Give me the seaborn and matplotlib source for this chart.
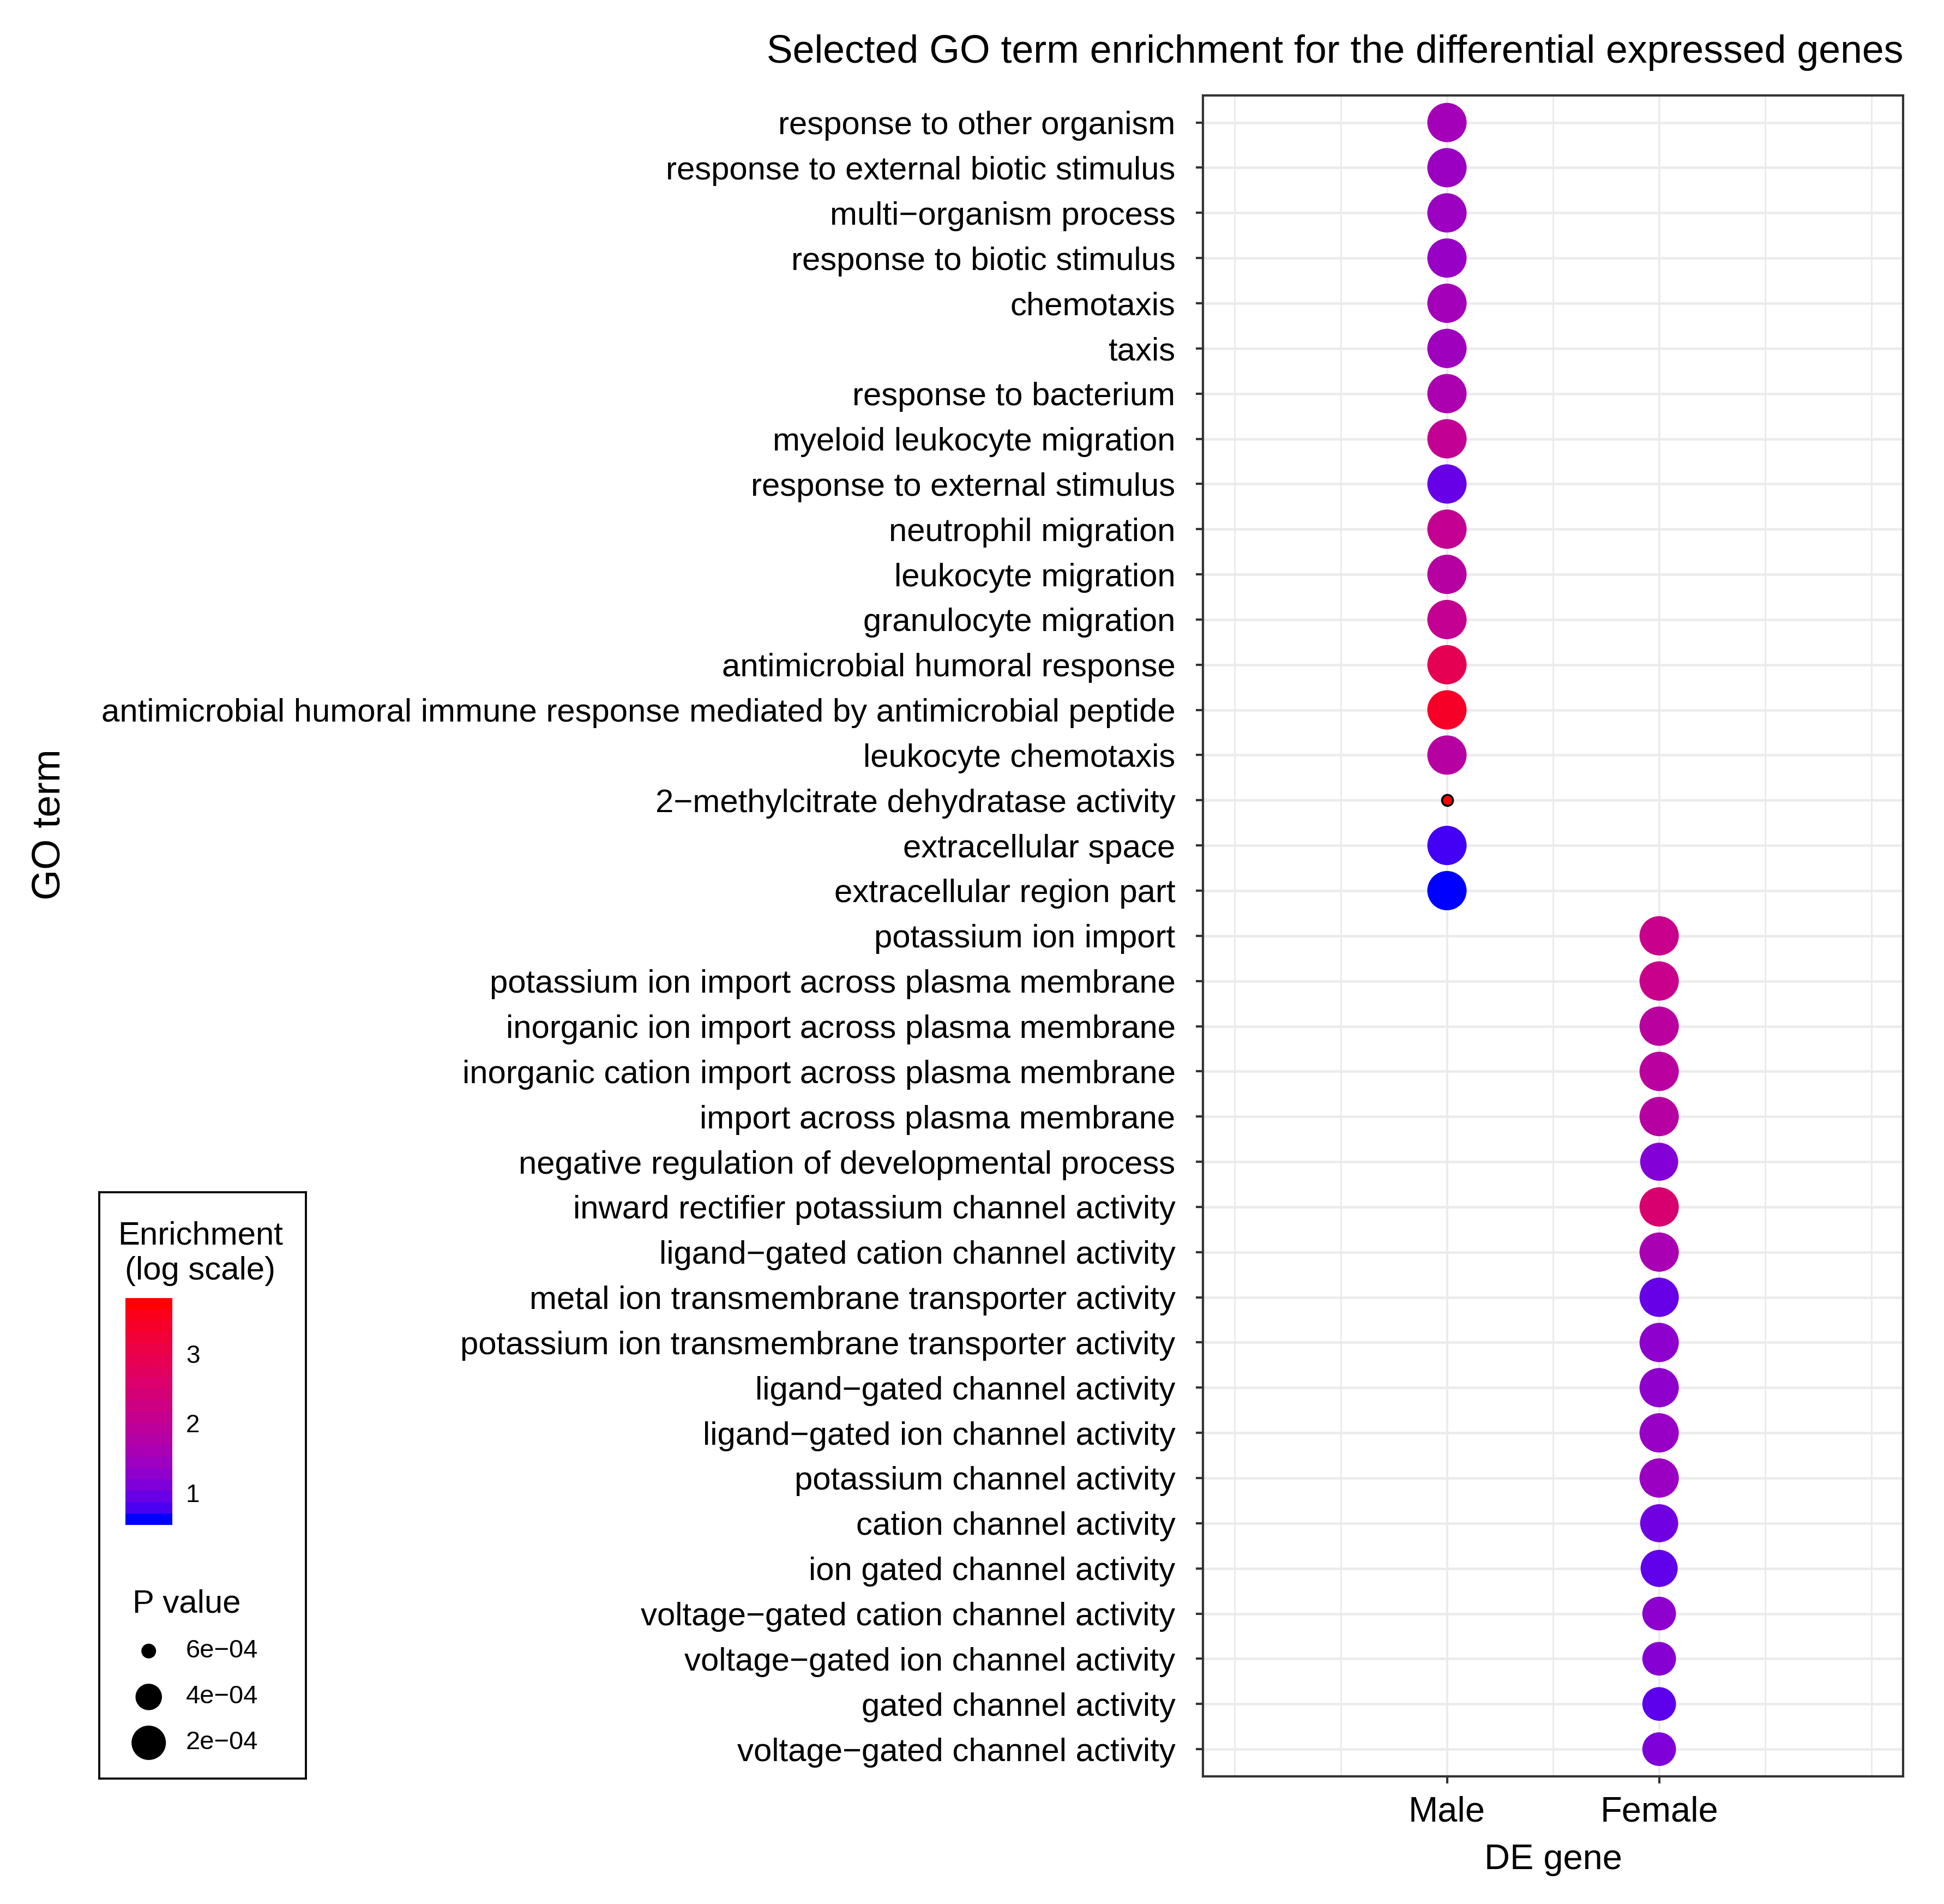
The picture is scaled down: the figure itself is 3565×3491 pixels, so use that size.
import numpy as np
import pandas as pd
import matplotlib
matplotlib.use("Agg")
import matplotlib.pyplot as plt
import seaborn as sns
from matplotlib.colors import ListedColormap, Normalize
from matplotlib.cm import ScalarMappable

# GO terms, top to bottom
terms = [
    "response to other organism",
    "response to external biotic stimulus",
    "multi−organism process",
    "response to biotic stimulus",
    "chemotaxis",
    "taxis",
    "response to bacterium",
    "myeloid leukocyte migration",
    "response to external stimulus",
    "neutrophil migration",
    "leukocyte migration",
    "granulocyte migration",
    "antimicrobial humoral response",
    "antimicrobial humoral immune response mediated by antimicrobial peptide",
    "leukocyte chemotaxis",
    "2−methylcitrate dehydratase activity",
    "extracellular space",
    "extracellular region part",
    "potassium ion import",
    "potassium ion import across plasma membrane",
    "inorganic ion import across plasma membrane",
    "inorganic cation import across plasma membrane",
    "import across plasma membrane",
    "negative regulation of developmental process",
    "inward rectifier potassium channel activity",
    "ligand−gated cation channel activity",
    "metal ion transmembrane transporter activity",
    "potassium ion transmembrane transporter activity",
    "ligand−gated channel activity",
    "ligand−gated ion channel activity",
    "potassium channel activity",
    "cation channel activity",
    "ion gated channel activity",
    "voltage−gated cation channel activity",
    "voltage−gated ion channel activity",
    "gated channel activity",
    "voltage−gated channel activity",
]
groups = ["Male"] * 18 + ["Female"] * 19

# enrichment (log scale)
enrichment = [
    1.49, 1.36, 1.39, 1.32, 1.49, 1.42, 1.62, 2.01, 0.87,
    2.04, 1.81, 2.04, 2.92, 3.50, 1.81, 3.80, 0.67, 0.54,
    2.14, 2.14, 1.84, 1.84, 1.81, 1.09, 2.53, 1.58, 0.87,
    1.19, 1.22, 1.32, 1.36, 0.93, 0.83, 1.19, 1.13, 0.80, 1.06,
]
# p values
pvalues = [
    5e-5, 5e-5, 5e-5, 5e-5, 5e-5, 5e-5, 5e-5, 5e-5, 5e-5,
    5e-5, 5e-5, 5e-5, 5e-5, 5e-5, 5e-5, 6.4e-4, 5e-5, 5e-5,
    5e-5, 5e-5, 5e-5, 5e-5, 5e-5, 9e-5, 5e-5, 5e-5, 5e-5,
    5e-5, 5e-5, 5e-5, 5e-5, 9e-5, 1.2e-4, 2.2e-4, 2.2e-4, 2.2e-4, 2.2e-4,
]
size_breaks = [6e-4, 4e-4, 2e-4]
size_labels = ["6e−04", "4e−04", "2e−04"]
color_ticks = [1, 2, 3]

df = pd.DataFrame({"term": terms, "group": groups,
                   "enrichment": enrichment, "pvalue": pvalues})

# blue -> red gradient interpolated in Lab space (like ggplot's scale_colour_gradient)
WHITE = np.array([0.95047, 1.0, 1.08883])
M = np.array([[0.4124564, 0.3575761, 0.1804375],
              [0.2126729, 0.7151522, 0.0721750],
              [0.0193339, 0.1191920, 0.9503041]])


def to_lab(rgb):
    rgb = np.asarray(rgb, float)
    lin = np.where(rgb <= 0.04045, rgb / 12.92, ((rgb + 0.055) / 1.055) ** 2.4)
    xyz = M @ lin / WHITE
    f = np.where(xyz > (6 / 29) ** 3, np.cbrt(xyz), xyz / (3 * (6 / 29) ** 2) + 4 / 29)
    return np.array([116 * f[1] - 16, 500 * (f[0] - f[1]), 200 * (f[1] - f[2])])


def from_lab(lab):
    L, a, b = lab
    fy = (L + 16) / 116
    f = np.array([fy + a / 500, fy, fy - b / 200])
    xyz = np.where(f > 6 / 29, f ** 3, 3 * (6 / 29) ** 2 * (f - 4 / 29)) * WHITE
    lin = np.clip(np.linalg.solve(M, xyz), 0, 1)
    return np.where(lin <= 0.0031308, 12.92 * lin, 1.055 * lin ** (1 / 2.4) - 0.055)


lo, hi = to_lab([0, 0, 1]), to_lab([1, 0, 0])
cmap = ListedColormap([np.clip(from_lab(lo + t * (hi - lo)), 0, 1)
                       for t in np.linspace(0, 1, 256)])
hue_norm = (min(enrichment), max(enrichment))

# point area (pt^2) falls linearly with the p value
p_lo, p_hi = min(pvalues), max(pvalues)


def size_of(p):
    return 322.5 - 467500.0 * p


sns.set_style("white")
plt.rcParams["font.family"] = ["Liberation Sans", "DejaVu Sans"]
plt.rcParams["text.color"] = "black"
plt.rcParams["axes.labelcolor"] = "black"

fig = plt.figure(figsize=(3565 / 300, 3491 / 300), dpi=300)
ax = fig.add_axes([0.6188, 0.0671, 0.3602, 0.8828])

common = dict(x="group", y="term", hue="enrichment", size="pvalue",
              palette=cmap, hue_norm=hue_norm,
              sizes=(size_of(p_lo), size_of(p_hi)), size_norm=(p_lo, p_hi),
              legend=False, ax=ax, zorder=3)
sns.scatterplot(data=df, edgecolor="none", linewidth=0, **common)
sns.scatterplot(data=df[df.pvalue > 5e-4], edgecolor="black", linewidth=0.85, **common)

ax.set_xlim(-1.15, 2.15)
ax.set_ylim(len(terms) - 1 + 0.6, -0.6)
ax.set_xticks([0, 1])
ax.set_xticklabels(["Male", "Female"])
ax.set_xticks([-1, -0.5, 0.5, 1.5, 2], minor=True)
ax.set_axisbelow(True)
ax.grid(which="major", axis="y", color="#EBEBEB", linewidth=1.1)
ax.grid(which="major", axis="x", color="#EBEBEB", linewidth=0.9)
ax.grid(which="minor", axis="x", color="#EBEBEB", linewidth=0.7)
ax.tick_params(axis="y", which="major", left=True, length=3.1, width=1.0,
               color="#333333", labelsize=14.4, labelcolor="black", pad=9)
ax.tick_params(axis="x", which="major", bottom=True, length=3.1, width=1.0,
               color="#333333", labelsize=15.6, labelcolor="black", pad=5.5)
ax.tick_params(axis="x", which="minor", length=0)
for sp in ax.spines.values():
    sp.set_color("#333333")
    sp.set_linewidth(1.0)
ax.set_ylabel("")
ax.set_xlabel("DE gene", fontsize=15.6, labelpad=6.6)

fig.text(0.979, 0.9725, "Selected GO term enrichment for the differential expressed genes",
         ha="right", va="center", fontsize=17.2)
fig.text(0.0255, 0.567, "GO term", rotation=90, ha="center", va="center", fontsize=17.3)

# legend box
leg = fig.add_axes([0.051, 0.0658, 0.1065, 0.3079])
leg.set_xlim(0, 1)
leg.set_ylim(0, 1)
leg.set_xticks([])
leg.set_yticks([])
for sp in leg.spines.values():
    sp.set_color("black")
    sp.set_linewidth(0.9)
leg.text(0.488, 0.896, "Enrichment\n(log scale)", ha="center", va="center", fontsize=14.4)
leg.text(0.1617, 0.298, "P value", ha="left", va="center", fontsize=14.4)
key_y = [0.2178, 0.1395, 0.0613]
leg.scatter([0.2395] * len(size_breaks), key_y, s=[size_of(p) for p in size_breaks],
            color="black", edgecolor="none")
for yy, lab in zip(key_y, size_labels):
    leg.text(0.419, yy, lab, ha="left", va="center", fontsize=11.3)

# colour bar, drawn in 20 bins like the reference
cax = fig.add_axes([0.0644, 0.1992, 0.0242, 0.1191])
cb = fig.colorbar(ScalarMappable(norm=Normalize(*hue_norm), cmap=cmap.resampled(20)),
                  cax=cax, ticks=color_ticks)
cb.outline.set_visible(False)
cax.tick_params(direction="in", length=4.3, width=0.8, color="white",
                left=True, right=True, labelsize=11, labelcolor="black", pad=6)
cax.set_yticklabels([str(t) for t in color_ticks])

fig.savefig("out.png", dpi=300)
